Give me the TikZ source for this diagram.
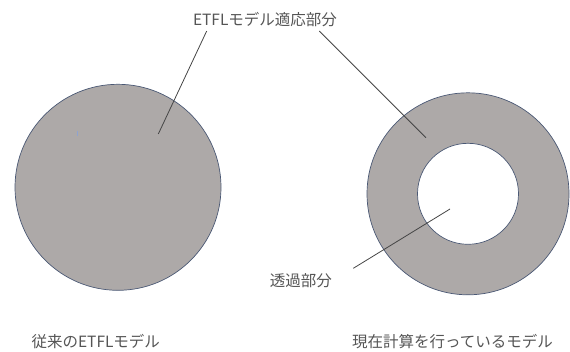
\documentclass[tikz,border=0pt]{standalone}
\usepackage{fontspec}
\newfontfamily\jp{Noto Sans CJK JP}
\definecolor{fillgray}{HTML}{ADA9A8}
\definecolor{edgeblue}{HTML}{4A5874}
\definecolor{linegray}{HTML}{454545}
\definecolor{textgray}{HTML}{555555}
\definecolor{tickblue}{HTML}{8FA3D0}
\tikzset{
  disc/.style={circle, draw=edgeblue, line width=0.7pt, fill=fillgray, inner sep=0pt},
  hole/.style={circle, draw=edgeblue, line width=0.7pt, fill=white, inner sep=0pt},
  lbl/.style={font=\jp\fontsize{15.5}{18}\selectfont, text=textgray, inner sep=0pt},
  leader/.style={draw=linegray, line width=0.8pt}
}
\begin{document}
\begin{tikzpicture}[x=1pt,y=-1pt]
\useasboundingbox (0,0) rectangle (570,351);
% shapes
\node[disc, minimum size=206pt] (left) at (118,187.3) {};
\node[disc, minimum size=202pt] (outer) at (468,193.8) {};
\node[hole, minimum size=101pt] (inner) at (468,193.8) {};
\draw[tickblue, line width=0.6pt] (77.7,131) -- (77.7,135.7);
% labels
\node[lbl] (etfl) at (265,20) {ETFLモデル適応部分};
\node[lbl] (trans) at (300.8,281) {透過部分};
\node[lbl] (cap1) at (95.8,341.5) {従来のETFLモデル};
\node[lbl] (cap2) at (452.5,342) {現在計算を行っているモデル};
% leader endpoints
\coordinate (l1s) at (206.7,31);
\coordinate (l1e) at (158.3,134);
\coordinate (l2s) at (319.3,31);
\coordinate (l2e) at (426,137.7);
\coordinate (l3s) at (450,209);
\coordinate (l3e) at (353.3,268.3);
\draw[leader] (l1s) -- (l1e);
\draw[leader] (l2s) -- (l2e);
\draw[leader] (l3s) -- (l3e);
\end{tikzpicture}
\end{document}
